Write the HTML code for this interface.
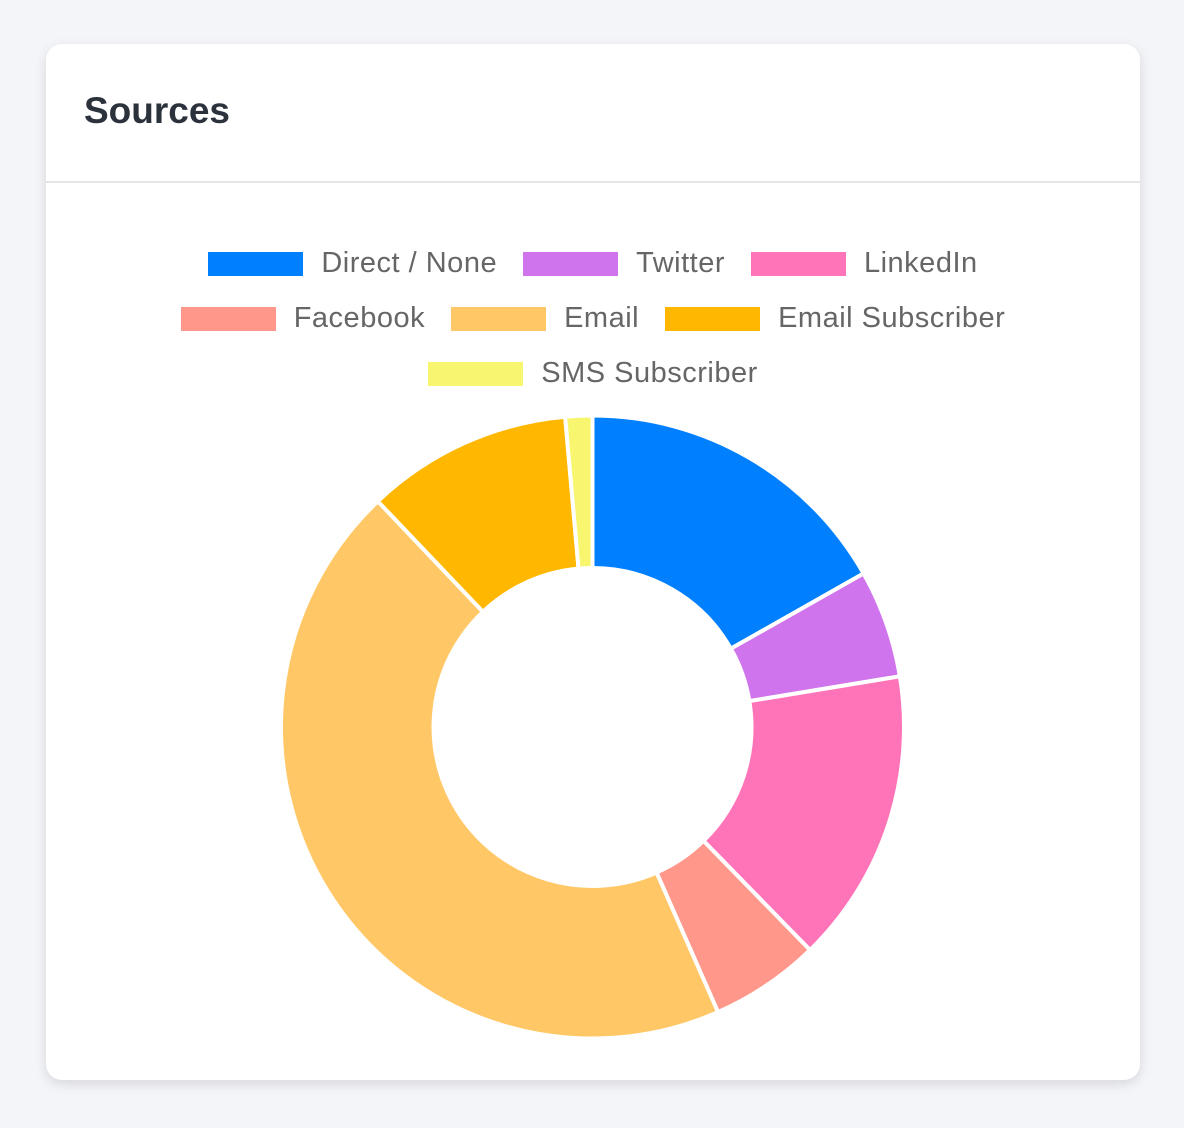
<!DOCTYPE html>
<html><head><meta charset="utf-8">
<style>
html,body{margin:0;padding:0;width:1184px;height:1128px;background:#f4f5f9;font-family:"Liberation Sans",sans-serif;overflow:hidden}
.card{position:absolute;left:46px;top:44px;width:1094px;height:1036px;background:#fff;border-radius:16px;box-shadow:0 4px 12px rgba(0,0,0,0.12)}
.title{position:absolute;left:38px;top:46px;font-size:37px;color:#2b323c;margin:0;font-weight:bold;letter-spacing:0px}
.divider{position:absolute;left:0;top:137px;width:100%;height:2px;background:#e3e5e9}
.legend{position:absolute;left:0;top:192px;width:1094px}
.row{display:flex;justify-content:center;height:55px;align-items:center}
.item{display:flex;align-items:center;margin:0 13px;font-size:29px;letter-spacing:0.5px;color:#666}
.box{width:95px;height:24px;margin-right:18px}
svg{position:absolute;left:0;top:0}
</style></head><body>
<div class="card">
<h2 class="title">Sources</h2>
<div class="divider"></div>
<div class="legend" id="legend"></div>
</div>
<svg id="chart" width="1184" height="1128"></svg>
<script>
const labels=["Direct / None","Twitter","LinkedIn","Facebook","Email","Email Subscriber","SMS Subscriber"];
const values=[168,56,153,57,445,107,14];
const colors=["#0080ff","#cf74ec","#ff73b8","#ff978a","#ffc766","#ffb700","#f8f56e"];
const legendRows=[[0,1,2],[3,4,5],[6]];

const leg=document.getElementById('legend');
legendRows.forEach(r=>{
  const row=document.createElement('div');row.className='row';
  
  
  r.forEach(i=>{
    const it=document.createElement('div');it.className='item';
    
    
    const b=document.createElement('div');b.className='box';b.style.background=colors[i];
    
    
    const t=document.createElement('span');t.textContent=labels[i];
    
    
    it.appendChild(b);it.appendChild(t);row.appendChild(it);
  });
  leg.appendChild(row);
});

const svg=document.getElementById('chart');
const cx=592.5,cy=727,R=311.5,r=159;
const total=values.reduce((a,b)=>a+b,0);
function pt(rad,a){return [cx+rad*Math.sin(a),cy-rad*Math.cos(a)];}
let acc=0;
values.forEach((v,i)=>{
  const a0=acc/total*2*Math.PI;acc+=v;const a1=acc/total*2*Math.PI;
  const large=(a1-a0)>Math.PI?1:0;
  const p0=pt(R,a0),p1=pt(R,a1),q1=pt(r,a1),q0=pt(r,a0);
  const d=`M${p0[0]},${p0[1]} A${R},${R} 0 ${large} 1 ${p1[0]},${p1[1]} L${q1[0]},${q1[1]} A${r},${r} 0 ${large} 0 ${q0[0]},${q0[1]} Z`;
  const p=document.createElementNS('http://www.w3.org/2000/svg','path');
  p.setAttribute('d',d);p.setAttribute('fill',colors[i]);
  p.setAttribute('stroke','#fff');p.setAttribute('stroke-width','4');
  
  
  svg.appendChild(p);
});
</script>
</body></html>
